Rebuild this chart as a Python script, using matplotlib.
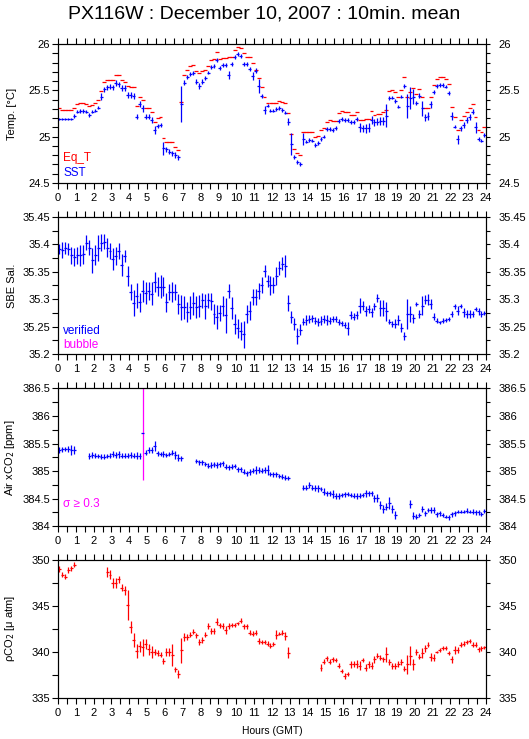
import numpy as np
import matplotlib
matplotlib.use("Agg")
import matplotlib.pyplot as plt
from matplotlib.ticker import MultipleLocator

plt.rcParams.update({
    'font.family': ['Liberation Sans', 'DejaVu Sans'],
    'font.size': 7,
})

# 10-min bins over the day (144 bins), value = None where no data
n_bins = 144
hours = (np.arange(n_bins) + 0.5) / 6.0

# --- panel 1: temperatures
eq_t = [25.306, 25.288, 25.288, 25.288, 25.288, 25.306, 25.349, 25.360, 25.360, 25.349,
        25.331, 25.342, 25.360, 25.396, 25.496, 25.586, 25.615, 25.615, 25.615, 25.665,
        25.665, 25.615, 25.594, 25.550, 25.532, 25.532, 25.331, 25.432, 25.392, 25.306,
        25.306, 25.263, 25.162, 25.198, 25.209, 24.982, 24.946, 24.946, 24.946, 24.892,
        24.856, 25.371, 25.665, 25.719, 25.763, 25.773, 25.712, 25.683, 25.712, 25.719,
        25.763, 25.827, 25.835, 25.910, 25.835, 25.845, 25.845, 25.856, 25.856, 25.935,
        25.964, 25.953, 25.906, 25.863, 25.856, 25.791, 25.719, 25.629, 25.532, 25.432,
        25.360, 25.360, 25.360, 25.367, 25.388, 25.371, 25.360, 25.259, 25.025, 24.867,
        24.820, 24.802, 25.047, 25.047, 25.047, 25.047, 24.993, 25.011, 25.072, 25.090,
        25.155, 25.176, 25.169, 25.169, 25.252, 25.281, 25.270, 25.263, 25.237, 25.237,
        25.270, 25.180, 25.180, 25.187, 25.187, 25.281, 25.234, 25.245, 25.245, 25.270,
        25.288, 25.493, 25.504, 25.478, 25.424, 25.504, 25.640, 25.432, 25.478, 25.529,
        25.460, 25.511, 25.424, 25.306, 25.306, 25.424, 25.558, 25.619, 25.647, 25.640,
        25.619, 25.568, 25.324, 25.209, 25.072, 25.180, 25.223, 25.270, 25.313, 25.353,
        25.209, 25.072, 25.047, 25.101]
sst = [25.194, 25.194, 25.194, 25.194, 25.194, 25.223, 25.270, 25.273, 25.277, 25.270,
       25.230, 25.270, 25.281, 25.313, 25.432, 25.511, 25.532, 25.540, 25.532, 25.576,
       25.565, 25.522, 25.522, 25.450, 25.450, 25.439, 25.216, 25.353, 25.306, 25.216,
       25.216, 25.180, 25.072, 25.115, 25.122, 24.874, 24.863, 24.838, 24.820, 24.802,
       24.777, 25.353, 25.583, 25.640, 25.676, 25.683, 25.594, 25.547, 25.594, 25.629,
       25.691, 25.748, 25.763, 25.827, 25.737, 25.770, 25.773, 25.665, 25.781, 25.863,
       25.892, 25.871, 25.784, 25.781, 25.727, 25.655, 25.712, 25.547, 25.439, 25.288,
       25.335, 25.281, 25.281, 25.295, 25.306, 25.288, 25.259, 25.162, 24.921, 24.777,
       24.730, 24.705, 24.975, 24.946, 24.964, 24.957, 24.910, 24.928, 24.978, 25.000,
       25.079, 25.083, 25.072, 25.090, 25.169, 25.191, 25.176, 25.180, 25.155, 25.155,
       25.187, 25.101, 25.090, 25.090, 25.097, 25.180, 25.155, 25.162, 25.169, 25.169,
       25.227, 25.414, 25.421, 25.388, 25.324, 25.432, 25.550, 25.331, 25.414, 25.432,
       25.360, 25.442, 25.306, 25.209, 25.223, 25.349, 25.478, 25.547, 25.558, 25.558,
       25.540, 25.468, 25.223, 25.108, 24.971, 25.090, 25.126, 25.180, 25.209, 25.270,
       25.101, 24.978, 24.957, 25.018]
sst_err = [0.012, 0.012, 0.012, 0.012, 0.012, 0.02, 0.02, 0.02, 0.02, 0.02,
           0.02, 0.02, 0.02, 0.02, 0.04, 0.03, 0.03, 0.03, 0.03, 0.03,
           0.03, 0.03, 0.03, 0.035, 0.035, 0.035, 0.03, 0.03, 0.035, 0.03,
           0.03, 0.03, 0.04, 0.02, 0.02, 0.07, 0.03, 0.03, 0.03, 0.03,
           0.03, 0.19, 0.025, 0.02, 0.02, 0.02, 0.03, 0.03, 0.025, 0.02,
           0.02, 0.02, 0.02, 0.025, 0.02, 0.02, 0.02, 0.04, 0.02, 0.02,
           0.02, 0.02, 0.02, 0.02, 0.02, 0.04, 0.03, 0.08, 0.02, 0.04,
           0.02, 0.02, 0.02, 0.02, 0.02, 0.02, 0.02, 0.04, 0.12, 0.02,
           0.02, 0.02, 0.06, 0.02, 0.02, 0.02, 0.02, 0.02, 0.02, 0.02,
           0.02, 0.02, 0.02, 0.02, 0.02, 0.02, 0.02, 0.02, 0.02, 0.02,
           0.02, 0.05, 0.04, 0.05, 0.05, 0.04, 0.04, 0.04, 0.04, 0.04,
           0.12, 0.02, 0.02, 0.02, 0.02, 0.02, 0.02, 0.13, 0.12, 0.08,
           0.02, 0.03, 0.08, 0.04, 0.04, 0.04, 0.02, 0.02, 0.02, 0.02,
           0.02, 0.02, 0.04, 0.02, 0.05, 0.03, 0.03, 0.03, 0.03, 0.03,
           0.06, 0.02, 0.02, 0.02]

# --- panel 2: SBE salinity (verified)
sal = [35.391, 35.390, 35.393, 35.391, 35.380, 35.377, 35.380, 35.380, 35.382, 35.403,
       35.394, 35.371, 35.380, 35.394, 35.403, 35.405, 35.394, 35.388, 35.374, 35.379,
       35.388, 35.362, 35.379, 35.342, 35.313, 35.293, 35.306, 35.294, 35.315, 35.311,
       35.315, 35.310, 35.331, 35.323, 35.323, 35.323, 35.294, 35.313, 35.313, 35.313,
       35.291, 35.285, 35.285, 35.276, 35.285, 35.293, 35.285, 35.287, 35.298, 35.287,
       35.298, 35.296, 35.273, 35.267, 35.275, 35.288, 35.271, 35.315, 35.284, 35.255,
       35.247, 35.242, 35.236, 35.273, 35.279, 35.304, 35.304, 35.315, 35.326, 35.352,
       35.333, 35.325, 35.326, 35.342, 35.357, 35.365, 35.360, 35.293, 35.268, 35.255,
       35.233, 35.244, 35.259, 35.262, 35.264, 35.265, 35.261, 35.258, 35.261, 35.264,
       35.262, 35.261, 35.264, 35.264, 35.258, 35.256, 35.253, 35.247, 35.271, 35.268,
       35.271, 35.288, 35.288, 35.279, 35.282, 35.276, 35.287, 35.302, 35.284, 35.284,
       35.278, 35.259, 35.255, 35.255, 35.262, 35.248, 35.233, 35.273, 35.273, 35.265,
       35.291, 35.273, 35.288, 35.299, 35.299, 35.291, 35.268, 35.261, 35.258, 35.261,
       35.262, 35.264, 35.273, 35.287, 35.279, 35.287, 35.276, 35.273, 35.273, 35.273,
       35.282, 35.278, 35.273, 35.275]
sal_err = [0.009, 0.015, 0.011, 0.011, 0.016, 0.016, 0.015, 0.019, 0.017, 0.014,
           0.014, 0.023, 0.018, 0.024, 0.016, 0.014, 0.017, 0.014, 0.020, 0.017,
           0.014, 0.020, 0.011, 0.018, 0.014, 0.023, 0.023, 0.018, 0.020, 0.020,
           0.017, 0.021, 0.018, 0.018, 0.021, 0.017, 0.017, 0.014, 0.018, 0.014,
           0.018, 0.023, 0.021, 0.018, 0.021, 0.021, 0.020, 0.020, 0.014, 0.023,
           0.014, 0.016, 0.018, 0.022, 0.015, 0.018, 0.032, 0.013, 0.020, 0.018,
           0.017, 0.017, 0.025, 0.017, 0.017, 0.015, 0.015, 0.015, 0.015, 0.011,
           0.011, 0.017, 0.015, 0.017, 0.012, 0.012, 0.020, 0.014, 0.011, 0.011,
           0.014, 0.010, 0.006, 0.009, 0.008, 0.007, 0.007, 0.007, 0.008, 0.007,
           0.009, 0.007, 0.005, 0.005, 0.006, 0.005, 0.006, 0.012, 0.008, 0.006,
           0.008, 0.014, 0.008, 0.009, 0.008, 0.008, 0.006, 0.007, 0.014, 0.014,
           0.017, 0.004, 0.005, 0.008, 0.010, 0.008, 0.008, 0.027, 0.015, 0.008,
           0.004, 0.007, 0.017, 0.008, 0.010, 0.009, 0.006, 0.005, 0.003, 0.004,
           0.003, 0.004, 0.005, 0.005, 0.008, 0.004, 0.008, 0.007, 0.007, 0.005,
           0.004, 0.006, 0.005, 0.004]

# --- panel 3: air xCO2
N = None
air = [385.382, 385.394, 385.400, 385.400, 385.382, 385.382, N, N, N, N,
       385.273, 385.291, 385.279, 385.273, 385.261, 385.261, 385.273, 385.279, 385.309, 385.291,
       385.303, 385.279, 385.279, 385.279, 385.291, 385.279, 385.279, 385.273, 385.685, 385.333,
       385.382, 385.382, 385.461, 385.321, 385.309, 385.309, 385.291, 385.309, 385.333, 385.291,
       385.242, 385.230, N, N, N, N, 385.182, 385.158, 385.158, 385.127,
       385.097, 385.109, 385.121, 385.109, 385.121, 385.139, 385.079, 385.067, 385.079, 385.091,
       385.030, 385.036, 384.988, 384.958, 384.988, 385.006, 385.018, 385.018, 385.006, 385.018,
       385.018, 384.945, 384.939, 384.939, 384.909, 384.897, 384.879, 384.867, N, N,
       N, N, 384.697, 384.697, 384.745, 384.697, 384.697, 384.685, 384.673, 384.624,
       384.594, 384.594, 384.582, 384.545, 384.545, 384.564, 384.576, 384.582, 384.564, 384.552,
       384.545, 384.552, 384.564, 384.594, 384.594, 384.594, 384.503, 384.503, 384.382, 384.309,
       384.352, 384.412, 384.309, 384.200, N, N, N, N, 384.400, 384.188,
       384.170, 384.200, 384.309, 384.230, 384.291, 384.291, 384.291, 384.212, 384.230, 384.200,
       384.170, 384.158, 384.218, 384.230, 384.261, 384.261, 384.261, 384.279, 384.261, 384.261,
       384.248, 384.248, 384.218, 384.273]
air_err = [0.055, 0.05, 0.045, 0.05, 0.09, 0.08, N, N, N, N,
           0.06, 0.055, 0.045, 0.04, 0.05, 0.05, 0.04, 0.04, 0.05, 0.06,
           0.06, 0.045, 0.045, 0.045, 0.055, 0.045, 0.06, 0.06, 0.85, 0.05,
           0.055, 0.06, 0.09, 0.04, 0.045, 0.05, 0.045, 0.045, 0.05, 0.07,
           0.065, 0.045, N, N, N, N, 0.045, 0.04, 0.04, 0.045,
           0.05, 0.05, 0.045, 0.06, 0.05, 0.045, 0.045, 0.05, 0.045, 0.04,
           0.045, 0.045, 0.05, 0.05, 0.055, 0.045, 0.07, 0.06, 0.05, 0.06,
           0.085, 0.04, 0.04, 0.04, 0.04, 0.04, 0.045, 0.035, N, N,
           N, N, 0.045, 0.045, 0.055, 0.045, 0.055, 0.06, 0.045, 0.06,
           0.05, 0.045, 0.075, 0.05, 0.05, 0.03, 0.045, 0.045, 0.03, 0.045,
           0.05, 0.045, 0.03, 0.06, 0.05, 0.05, 0.06, 0.075, 0.08, 0.08,
           0.06, 0.11, 0.075, 0.07, N, N, N, N, 0.07, 0.06,
           0.05, 0.04, 0.06, 0.05, 0.045, 0.05, 0.06, 0.04, 0.05, 0.03,
           0.03, 0.04, 0.045, 0.045, 0.03, 0.03, 0.03, 0.045, 0.03, 0.04,
           0.045, 0.045, 0.036, 0.036]
air_flag_bin = 28   # sigma >= 0.3 (drawn magenta)

# --- panel 4: pCO2 (seawater)
pco2 = [349.0, 348.4, 348.2, 348.9, 349.1, 349.5, N, N, N, N,
        N, N, N, N, N, N, 348.7, 348.4, 347.5, 347.5,
        347.9, 347.0, 346.7, 345.1, 342.75, 341.3, 340.1, 340.6, 340.5, 340.9,
        340.3, 340.0, 340.0, 339.9, 339.7, 339.0, 340.0, 340.0, 339.7, 338.1,
        337.6, 340.2, 341.6, 341.6, 341.9, 342.2, 341.8, 341.1, 341.3, 341.9,
        342.8, 342.3, 342.3, 343.3, 342.9, 342.8, 342.4, 342.8, 342.9, 342.9,
        343.1, 343.4, 342.8, 342.8, 342.1, 342.0, 342.1, 341.2, 341.1, 341.1,
        340.9, 340.7, 340.9, 341.9, 342.0, 342.1, 341.7, 339.9, N, N,
        N, N, N, N, N, N, N, N, 338.3, 338.95,
        339.3, 338.95, 339.2, 339.1, 338.5, 337.9, 337.4, 337.6, 338.65, 338.7,
        338.7, 338.5, 339.1, 338.3, 338.65, 338.5, 339.2, 339.6, 339.4, 339.2,
        339.75, 338.9, 338.5, 338.5, 338.7, 338.9, 338.2, 338.65, 339.6, 338.65,
        340.0, 339.5, 339.9, 340.4, 340.8, 339.45, 339.4, 340.0, 340.2, 340.4,
        340.4, 339.9, 339.2, 340.2, 340.2, 340.8, 340.9, 341.1, 341.2, 340.8,
        340.8, 340.3, 340.4, 340.5]
pco2_err = [0.3, 0.3, 0.3, 0.3, 0.3, 0.3, N, N, N, N,
            N, N, N, N, N, N, 0.55, 0.5, 0.5, 0.5,
            0.4, 0.4, 0.5, 1.6, 0.65, 0.8, 0.8, 0.6, 0.9, 0.55,
            0.6, 0.65, 0.35, 0.35, 0.25, 0.35, 0.4, 0.4, 1.2, 0.3,
            0.45, 1.35, 0.45, 0.35, 0.3, 0.25, 0.3, 0.35, 0.3, 0.3,
            0.3, 0.3, 0.3, 0.35, 0.3, 0.3, 0.45, 0.3, 0.2, 0.2,
            0.2, 0.25, 0.25, 0.25, 0.25, 0.25, 0.25, 0.35, 0.25, 0.25,
            0.25, 0.25, 0.2, 0.5, 0.2, 0.25, 0.45, 0.6, N, N,
            N, N, N, N, N, N, N, N, 0.35, 0.3,
            0.3, 0.3, 0.3, 0.2, 0.25, 0.2, 0.3, 0.25, 0.4, 0.3,
            0.45, 0.5, 0.2, 0.35, 0.4, 0.4, 0.35, 0.3, 0.25, 0.3,
            0.8, 0.3, 0.3, 0.35, 0.3, 0.3, 0.3, 1.0, 1.0, 0.6,
            0.3, 0.3, 0.55, 0.35, 0.25, 0.45, 0.35, 0.15, 0.2, 0.2,
            0.2, 0.25, 0.35, 0.45, 0.3, 0.25, 0.25, 0.25, 0.25, 0.25,
            0.25, 0.25, 0.25, 0.2]

hour_ticks = list(range(0, 25))

BLUE = '#0000ff'
RED = '#ff0000'
MAG = '#ff00ff'
XHALF = 1 / 12.0


def arr(v):
    return np.array([np.nan if x is None else x for x in v], dtype=float)


def bars(ax, y, yerr, color, skip=(), xhalf=XHALF):
    y = arr(y)
    yerr = arr(yerr) if yerr is not None else None
    ok = np.isfinite(y)
    for s in skip:
        ok[s] = False
    ax.errorbar(hours[ok], y[ok], xerr=xhalf,
                yerr=None if yerr is None else yerr[ok],
                fmt='none', ecolor=color, elinewidth=0.9, capsize=0)


def style(ax, ylim, major, minor, ylabel, lab_x=-0.096):
    ax.set_xlim(0, 24)
    ax.set_ylim(*ylim)
    ax.xaxis.set_major_locator(MultipleLocator(1))
    ax.xaxis.set_minor_locator(MultipleLocator(0.5))
    ax.yaxis.set_major_locator(MultipleLocator(major))
    ax.yaxis.set_minor_locator(MultipleLocator(minor))
    ax.set_xticks(hour_ticks)
    ax.set_xticklabels([str(h) for h in hour_ticks])
    ax.tick_params(axis='x', which='both', direction='out', top=True,
                   bottom=True, length=4, width=0.8, pad=3, labelsize=8)
    ax.tick_params(axis='y', which='both', direction='out', left=True,
                   right=False, length=4, width=0.8, pad=1.5, labelsize=8)
    for sp in ax.spines.values():
        sp.set_linewidth(0.8)
    ax.set_ylabel(ylabel, fontsize=8)
    ax.yaxis.set_label_coords(lab_x, 0.5)
    # right-hand labels
    tw = ax.twinx()
    tw.set_ylim(*ylim)
    tw.yaxis.set_major_locator(MultipleLocator(major))
    tw.yaxis.set_minor_locator(MultipleLocator(minor))
    tw.tick_params(axis='y', which='both', direction='out', length=3,
                   width=0.8, pad=6, labelsize=8)
    for sp in tw.spines.values():
        sp.set_linewidth(0.8)
    fmt = lambda v, p: ('%g' % round(v, 3))
    ax.yaxis.set_major_formatter(plt.FuncFormatter(fmt))
    tw.yaxis.set_major_formatter(plt.FuncFormatter(fmt))


fig = plt.figure(figsize=(5.29, 7.39), dpi=100)
W = 0.809
L = 0.1096
ax1 = fig.add_axes([L, 0.7524, W, 0.1881])
ax2 = fig.add_axes([L, 0.5210, W, 0.1854])
ax3 = fig.add_axes([L, 0.2882, W, 0.1861])
ax4 = fig.add_axes([L, 0.0555, W, 0.1867])

# panel 1
bars(ax1, eq_t, None, RED, xhalf=0.11)
bars(ax1, sst, sst_err, BLUE)
style(ax1, (24.5, 26), 0.5, 0.1, 'Temp. [°C]')
ax1.text(0.012, 0.18, 'Eq_T', color=RED, fontsize=8.5, transform=ax1.transAxes, va='center')
ax1.text(0.012, 0.075, 'SST', color=BLUE, fontsize=8.5, transform=ax1.transAxes, va='center')

# panel 2
bars(ax2, sal, sal_err, BLUE)
style(ax2, (35.2, 35.45), 0.05, 0.025, 'SBE Sal.')
ax2.text(0.012, 0.165, 'verified', color=BLUE, fontsize=8.5, transform=ax2.transAxes, va='center')
ax2.text(0.012, 0.068, 'bubble', color=MAG, fontsize=8.5, transform=ax2.transAxes, va='center')

# panel 3
bars(ax3, air, air_err, BLUE, skip=(air_flag_bin,))
air_a = arr(air)
ax3.errorbar(hours[air_flag_bin], air_a[air_flag_bin], yerr=air_err[air_flag_bin],
             fmt='none', ecolor=MAG, elinewidth=0.9, capsize=0)
ax3.errorbar(hours[air_flag_bin], air_a[air_flag_bin], xerr=XHALF,
             fmt='none', ecolor=BLUE, elinewidth=0.9, capsize=0)
style(ax3, (384, 386.5), 0.5, 0.25, 'Air xCO$_2$ [ppm]')
ax3.text(0.012, 0.16, 'σ ≥ 0.3', color=MAG, fontsize=8.5, transform=ax3.transAxes, va='center')

# panel 4
bars(ax4, pco2, pco2_err, RED)
style(ax4, (335, 350), 5, 2.5, 'ρCO$_2$ [μ atm]')

fig.text(0.5, 1 - 14 / 739, 'PX116W : December 10, 2007 : 10min. mean',
         ha='center', va='center', fontsize=14)
fig.text(272 / 529, 1 - 731 / 739, 'Hours (GMT)', ha='center', va='center', fontsize=7.5)

fig.savefig('out.png', dpi=100, facecolor='white')
